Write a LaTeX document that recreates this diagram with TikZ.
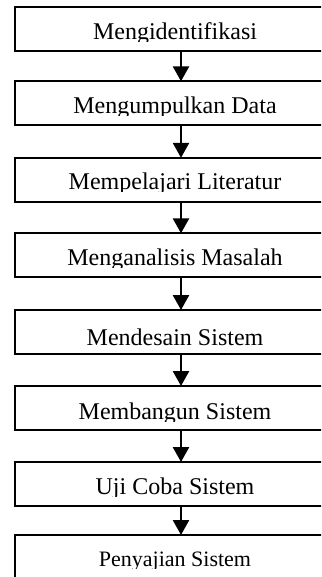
\documentclass[tikz,border=0pt]{standalone}
\usepackage{fontspec}
\setmainfont{Liberation Serif}
\usetikzlibrary{arrows.meta}

% Step text, clipped just below its baseline like a fixed-height text frame
\newcommand{\steptext}[4]{%
  \begin{scope}
    \clip (0,#2-30) rectangle (321,#2+2.5);
    \node[steplabel,#4] (#1) at (175,#2) {#3};
  \end{scope}}

\begin{document}
\begin{tikzpicture}[x=0.5pt,y=-0.5pt,
  stepbox/.style={draw,line width=1pt,minimum width=166pt,minimum height=22pt,
                  inner sep=0pt,outer sep=0pt},
  steplabel/.style={anchor=base,inner sep=0pt,font=\fontsize{12}{14}\selectfont},
  smalllabel/.style={font=\fontsize{11}{13}\selectfont},
  arr/.style={line width=1.3pt,-{Triangle[width=8pt,length=7.5pt]}}]
\useasboundingbox (0,0) rectangle (321,577);
\clip (0,0) rectangle (321,577);

% boxes
\node[stepbox] (b1) at (181,29)    {};
\node[stepbox] (b2) at (181,103.3) {};
\node[stepbox] (b3) at (181,179.8) {};
\node[stepbox] (b4) at (181,255.3) {};
\node[stepbox] (b5) at (181,332)   {};
\node[stepbox] (b6) at (181,408)   {};
\node[stepbox] (b7) at (181,484)   {};
\node[stepbox] (b8) at (181,557)   {};

% labels
\steptext{t1}{39.5}{Mengidentifikasi}{}
\steptext{t2}{113.5}{Mengumpulkan Data}{}
\steptext{t3}{189.5}{Mempelajari Literatur}{}
\steptext{t4}{265}{Menganalisis Masalah}{}
\steptext{t5}{345}{Mendesain Sistem}{}
\steptext{t6}{419}{Membangun Sistem}{}
\steptext{t7}{494.3}{Uji Coba Sistem}{}
\steptext{t8}{566}{Penyajian Sistem}{smalllabel}

% flow
\draw[arr] (b1.south) -- (b2.north);
\draw[arr] (b2.south) -- (b3.north);
\draw[arr] (b3.south) -- (b4.north);
\draw[arr] (b4.south) -- (b5.north);
\draw[arr] (b5.south) -- (b6.north);
\draw[arr] (b6.south) -- (b7.north);
\draw[arr] (b7.south) -- (b8.north);
\end{tikzpicture}
\end{document}
